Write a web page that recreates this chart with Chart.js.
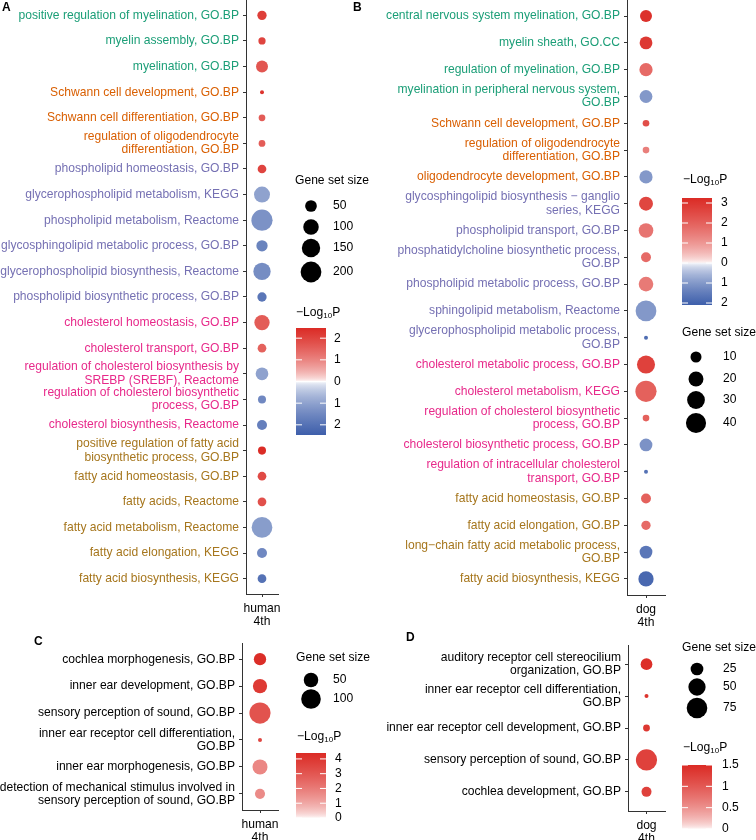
<!DOCTYPE html>
<html>
<head>
<meta charset="utf-8">
<script src="https://cdn.jsdelivr.net/npm/chart.js@4.4.1/dist/chart.umd.min.js"></script>
<style>
  body { margin: 0; background: #fff; width: 756px; height: 840px; position: relative; overflow: hidden; }
  canvas { position: absolute; }
</style>
</head>
<body>
<canvas id="panelA" width="378" height="630" style="left:0;top:0"></canvas>
<canvas id="panelB" width="416" height="630" style="left:340px;top:0"></canvas>
<canvas id="panelC" width="378" height="210" style="left:0;top:630px"></canvas>
<canvas id="panelD" width="416" height="210" style="left:340px;top:630px"></canvas>
<script>
const FONT = '"Liberation Sans", Arial, Helvetica, sans-serif';
const FS = 12.1;

// ---- data ----
const groupColors = {
  myelin: '#1B9E77', schwann: '#D95F02', phospho: '#7570B3',
  chol: '#E7298A', fatty: '#A6761D', ear: '#000000'
};

const termsA = [
  'positive regulation of myelination, GO.BP',
  'myelin assembly, GO.BP',
  'myelination, GO.BP',
  'Schwann cell development, GO.BP',
  'Schwann cell differentiation, GO.BP',
  'regulation of oligodendrocyte\ndifferentiation, GO.BP',
  'phospholipid homeostasis, GO.BP',
  'glycerophospholipid metabolism, KEGG',
  'phospholipid metabolism, Reactome',
  'glycosphingolipid metabolic process, GO.BP',
  'glycerophospholipid biosynthesis, Reactome',
  'phospholipid biosynthetic process, GO.BP',
  'cholesterol homeostasis, GO.BP',
  'cholesterol transport, GO.BP',
  'regulation of cholesterol biosynthesis by\nSREBP (SREBF), Reactome',
  'regulation of cholesterol biosynthetic\nprocess, GO.BP',
  'cholesterol biosynthesis, Reactome',
  'positive regulation of fatty acid\nbiosynthetic process, GO.BP',
  'fatty acid homeostasis, GO.BP',
  'fatty acids, Reactome',
  'fatty acid metabolism, Reactome',
  'fatty acid elongation, KEGG',
  'fatty acid biosynthesis, KEGG'
];
const groupsA = ['myelin','myelin','myelin','schwann','schwann','schwann',
  'phospho','phospho','phospho','phospho','phospho','phospho',
  'chol','chol','chol','chol','chol',
  'fatty','fatty','fatty','fatty','fatty','fatty'];
const sizesA = [29, 17, 53, 10, 15, 15, 25, 107, 210, 46, 130, 29, 96, 25, 61, 21, 34, 21, 25, 25, 199, 34, 25];
const logPA = [2.1, 2.0, 1.7, 2.3, 1.6, 1.6, 2.0, -1.0, -1.3, -1.6, -1.4, -1.9, 1.6, 1.5, -1.0, -1.5, -1.7, 2.45, 1.9, 1.8, -1.1, -1.5, -2.0];
const xLabelA = ['human', '4th'];
const sizeBreaksA = [50, 100, 150, 200];
const colorBreaksA = [2, 1, 0, -1, -2];
const colorLimA = [-2.47, 2.47];

const termsB = [
  'central nervous system myelination, GO.BP',
  'myelin sheath, GO.CC',
  'regulation of myelination, GO.BP',
  'myelination in peripheral nervous system,\nGO.BP',
  'Schwann cell development, GO.BP',
  'regulation of oligodendrocyte\ndifferentiation, GO.BP',
  'oligodendrocyte development, GO.BP',
  'glycosphingolipid biosynthesis \u2212 ganglio\nseries, KEGG',
  'phospholipid transport, GO.BP',
  'phosphatidylcholine biosynthetic process,\nGO.BP',
  'phospholipid metabolic process, GO.BP',
  'sphingolipid metabolism, Reactome',
  'glycerophospholipid metabolic process,\nGO.BP',
  'cholesterol metabolic process, GO.BP',
  'cholesterol metabolism, KEGG',
  'regulation of cholesterol biosynthetic\nprocess, GO.BP',
  'cholesterol biosynthetic process, GO.BP',
  'regulation of intracellular cholesterol\ntransport, GO.BP',
  'fatty acid homeostasis, GO.BP',
  'fatty acid elongation, GO.BP',
  'long\u2212chain fatty acid metabolic process,\nGO.BP',
  'fatty acid biosynthesis, KEGG'
];
const groupsB = ['myelin','myelin','myelin','myelin','schwann','schwann','schwann',
  'phospho','phospho','phospho','phospho','phospho','phospho',
  'chol','chol','chol','chol','chol',
  'fatty','fatty','fatty','fatty'];
const sizesB = [12, 14, 15, 14, 4, 4, 15, 17, 19, 8, 19, 43, 3, 31, 45, 4, 14, 3, 8, 7, 14, 21];
const logPB = [3.1, 2.9, 1.8, -1.0, 2.4, 1.4, -1.0, 2.6, 1.6, 1.8, 1.5, -1.0, -1.8, 2.7, 2.0, 2.0, -1.1, -1.7, 2.0, 1.8, -1.6, -1.9];
const xLabelB = ['dog', '4th'];
const sizeBreaksB = [10, 20, 30, 40];
const colorBreaksB = [3, 2, 1, 0, -1, -2];
const colorLimB = [-2.1, 3.25];

const termsC = [
  'cochlea morphogenesis, GO.BP',
  'inner ear development, GO.BP',
  'sensory perception of sound, GO.BP',
  'inner ear receptor cell differentiation,\nGO.BP',
  'inner ear morphogenesis, GO.BP',
  'detection of mechanical stimulus involved in\nsensory perception of sound, GO.BP'
];
const groupsC = ['ear','ear','ear','ear','ear','ear'];
const sizesC = [34, 48, 120, 8, 54, 22];
const logPC = [4.3, 3.9, 3.1, 3.5, 1.7, 1.6];
const xLabelC = ['human', '4th'];
const sizeBreaksC = [50, 100];
const colorBreaksC = [4, 3, 2, 1, 0];
const colorLimC = [0, 4.4];

const termsD = [
  'auditory receptor cell stereocilium\norganization, GO.BP',
  'inner ear receptor cell differentiation,\nGO.BP',
  'inner ear receptor cell development, GO.BP',
  'sensory perception of sound, GO.BP',
  'cochlea development, GO.BP'
];
const groupsD = ['ear','ear','ear','ear','ear'];
const sizesD = [21, 6, 8, 80, 15];
const logPD = [1.45, 1.4, 1.35, 1.25, 1.25];
const xLabelD = ['dog', '4th'];
const sizeBreaksD = [25, 50, 75];
const colorBreaksD = [1.5, 1, 0.5, 0];
const colorLimD = [0, 1.5];

// ---- colour scale: white in the middle, red up, blue down ----
const HIGH = [219, 43, 37], LOW = [62, 95, 171], MID = [255, 255, 255];
const GAMMA = 0.6;

function mixRgb(c1, c2, t) {
  t = Math.pow(Math.max(0, Math.min(1, t)), GAMMA);
  const c = c1.map((v, i) => Math.round(v + (c2[i] - v) * t));
  return `rgb(${c[0]},${c[1]},${c[2]})`;
}
function colorOf(v, lim) {
  if (lim[0] >= 0) return mixRgb(MID, HIGH, (v - lim[0]) / (lim[1] - lim[0]));
  return v >= 0 ? mixRgb(MID, HIGH, v / lim[1]) : mixRgb(MID, LOW, v / lim[0]);
}

// ---- size scale: area-like, as ggplot scale_size ----
const R_MIN = 2, R_MAX = 10.6;
function radiusOf(v, sizes) {
  const lo = Math.min(...sizes), hi = Math.max(...sizes);
  const t = Math.max(0, Math.min(1, (v - lo) / (hi - lo)));
  return R_MIN + Math.sqrt(t) * (R_MAX - R_MIN);
}

// ---- legends drawn next to each panel ----
function legendPlugin(p) {
  return {
    id: 'panelLegend',
    afterDraw(chart) {
      const ctx = chart.ctx;
      const L = p.legend;
      ctx.save();
      ctx.textBaseline = 'middle';
      ctx.textAlign = 'left';
      ctx.fillStyle = '#000';

      ctx.font = 'bold 12px ' + FONT;
      ctx.fillText(p.letter, L.letter[0], L.letter[1]);

      // size legend
      ctx.font = FS + 'px ' + FONT;
      ctx.fillText('Gene set size', L.sizeTitle[0], L.sizeTitle[1]);
      p.sizeBreaks.forEach((b, i) => {
        ctx.beginPath();
        ctx.fillStyle = '#000';
        ctx.arc(L.sizeX, L.sizeY[i], radiusOf(b, p.sizes), 0, Math.PI * 2);
        ctx.fill();
        ctx.fillText(String(b), L.sizeLabelX, L.sizeY[i]);
      });

      // colour legend title: -Log10P
      let x = L.colTitle[0];
      const y = L.colTitle[1];
      ctx.font = FS + 'px ' + FONT;
      ctx.fillText('\u2212Log', x, y);
      x += ctx.measureText('\u2212Log').width;
      ctx.font = '8px ' + FONT;
      ctx.fillText('10', x, y + 3);
      x += ctx.measureText('10').width;
      ctx.font = FS + 'px ' + FONT;
      ctx.fillText('P', x, y);

      // colour bar
      const [x0, x1] = L.barX, [y0, y1] = L.barY;
      const [lo, hi] = p.colorLim;
      const grad = ctx.createLinearGradient(0, y0, 0, y1);
      for (let k = 0; k <= 80; k++) {
        const v = hi - (k / 80) * (hi - lo);
        grad.addColorStop(k / 80, colorOf(v, p.colorLim));
      }
      ctx.fillStyle = grad;
      ctx.fillRect(x0, y0, x1 - x0, y1 - y0);
      ctx.strokeStyle = '#fff';
      ctx.lineWidth = 1;
      ctx.fillStyle = '#000';
      p.colorBreaks.forEach(b => {
        const yy = y0 + (hi - b) / (hi - lo) * (y1 - y0);
        ctx.beginPath();
        ctx.moveTo(x0, yy); ctx.lineTo(x0 + 6, yy);
        ctx.moveTo(x1 - 6, yy); ctx.lineTo(x1, yy);
        ctx.stroke();
        ctx.fillText(String(Math.abs(b)), L.barLabelX, yy);
      });
      ctx.restore();
    }
  };
}

function makePanel(id, p) {
  const n = p.terms.length;
  const axisStyle = {
    grid: { drawOnChartArea: false, tickLength: 3, color: '#333', tickWidth: 1 },
    border: { color: '#333', width: 1 }
  };
  return new Chart(document.getElementById(id), {
    type: 'bubble',
    data: {
      datasets: [{
        data: p.terms.map((t, i) => ({ x: 0, y: i, r: radiusOf(p.sizes[i], p.sizes) })),
        backgroundColor: p.logP.map(v => colorOf(v, p.colorLim)),
        borderWidth: 0
      }]
    },
    options: {
      responsive: false,
      animation: false,
      events: [],
      layout: { autoPadding: false, padding: { top: p.padTop, right: p.padRight, left: 0, bottom: 0 } },
      plugins: { legend: { display: false }, tooltip: { enabled: false } },
      scales: {
        x: {
          type: 'linear', min: -0.6, max: 0.6,
          afterBuildTicks: s => { s.ticks = [{ value: 0 }]; },
          afterFit: s => { s.height = p.xHeight; s.paddingLeft = 0; s.paddingRight = 0; },
          ticks: {
            callback: () => p.xLabel, color: '#000', maxRotation: 0, padding: 5,
            font: { family: FONT, size: FS, lineHeight: 1.1 }
          },
          ...axisStyle
        },
        y: {
          type: 'linear', reverse: true, min: -0.6, max: n - 0.4,
          afterBuildTicks: s => { s.ticks = p.terms.map((_, i) => ({ value: i })); },
          afterFit: s => { s.width = p.yWidth; s.paddingTop = 0; s.paddingBottom = 0; },
          ticks: {
            autoSkip: false, padding: 4,
            callback: v => p.terms[v].split('\n'),
            color: c => groupColors[p.groups[c.index]],
            font: { family: FONT, size: FS, lineHeight: 1.1 }
          },
          ...axisStyle
        }
      }
    },
    plugins: [legendPlugin(p)]
  });
}

makePanel('panelA', {
  letter: 'A', terms: termsA, groups: groupsA, sizes: sizesA, logP: logPA, xLabel: xLabelA,
  sizeBreaks: sizeBreaksA, colorBreaks: colorBreaksA, colorLim: colorLimA,
  yWidth: 246, padRight: 100, padTop: 0, xHeight: 36,
  legend: {
    letter: [2, 8], sizeTitle: [295, 181], sizeX: 311, sizeY: [206, 227, 248, 272], sizeLabelX: 333,
    colTitle: [296, 313], barX: [296, 326], barY: [328, 435], barLabelX: 334
  }
});

makePanel('panelB', {
  letter: 'B', terms: termsB, groups: groupsB, sizes: sizesB, logP: logPB, xLabel: xLabelB,
  sizeBreaks: sizeBreaksB, colorBreaks: colorBreaksB, colorLim: colorLimB,
  yWidth: 287, padRight: 91, padTop: 0, xHeight: 35,
  legend: {
    letter: [13, 8], sizeTitle: [342, 333], sizeX: 356, sizeY: [357, 379, 400, 423], sizeLabelX: 383,
    colTitle: [343, 180], barX: [342, 372], barY: [198, 305], barLabelX: 381
  }
});

makePanel('panelC', {
  letter: 'C', terms: termsC, groups: groupsC, sizes: sizesC, logP: logPC, xLabel: xLabelC,
  sizeBreaks: sizeBreaksC, colorBreaks: colorBreaksC, colorLim: colorLimC,
  yWidth: 242, padRight: 100, padTop: 13, xHeight: 30,
  legend: {
    letter: [34, 12], sizeTitle: [296, 28], sizeX: 311, sizeY: [50, 69], sizeLabelX: 333,
    colTitle: [297, 107], barX: [296, 326], barY: [123, 188], barLabelX: 335
  }
});

makePanel('panelD', {
  letter: 'D', terms: termsD, groups: groupsD, sizes: sizesD, logP: logPD, xLabel: xLabelD,
  sizeBreaks: sizeBreaksD, colorBreaks: colorBreaksD, colorLim: colorLimD,
  yWidth: 288, padRight: 91, padTop: 15, xHeight: 29,
  legend: {
    letter: [66, 8], sizeTitle: [342, 18], sizeX: 357, sizeY: [39, 57, 78], sizeLabelX: 383,
    colTitle: [343, 118], barX: [342, 372], barY: [135, 199], barLabelX: 382
  }
});
</script>
</body>
</html>
